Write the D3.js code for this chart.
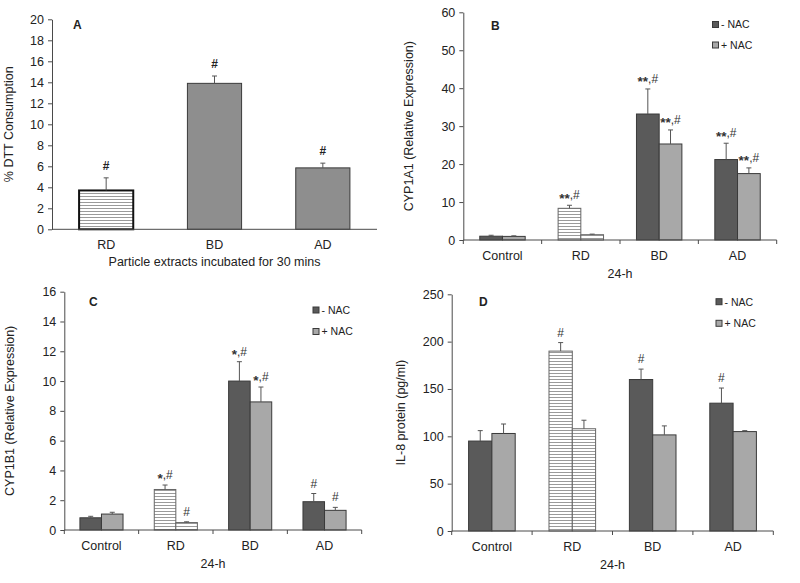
<!DOCTYPE html>
<html><head><meta charset="utf-8">
<script src="https://cdn.jsdelivr.net/npm/d3@7"></script>
<style>
html,body{margin:0;padding:0;background:#fff;}
text{font-family:"Liberation Sans",Arial,sans-serif;fill:#222;}
</style></head>
<body>
<svg id="fig" width="800" height="583"></svg>
<script>
// ---------- DATA ----------
const catsA = ["RD", "BD", "AD"];
const valsA = [3.7, 13.9, 5.85];
const errA = [1.2, 0.7, 0.45];
const annA = ["#", "#", "#"];
const ticksA = [0, 2, 4, 6, 8, 10, 12, 14, 16, 18, 20];

const cats = ["Control", "RD", "BD", "AD"];
const seriesNames = ["- NAC", "+ NAC"];

const minusB = [1.0, 8.35, 33.2, 21.2];
const plusB = [0.95, 1.4, 25.3, 17.5];
const errMinusB = [0.25, 0.8, 6.6, 4.3];
const errPlusB = [0.15, 0.15, 3.7, 1.5];
const annMinusB = ["", "**,#", "**,#", "**,#"];
const annPlusB = ["", "", "**,#", "**,#"];
const ticksB = [0, 10, 20, 30, 40, 50, 60];

const minusC = [0.82, 2.72, 10.0, 1.9];
const plusC = [1.07, 0.5, 8.6, 1.32];
const errMinusC = [0.1, 0.3, 1.3, 0.55];
const errPlusC = [0.12, 0.05, 1.0, 0.2];
const annMinusC = ["", "*,#", "*,#", "#"];
const annPlusC = ["", "#", "*,#", "#"];
const ticksC = [0, 2, 4, 6, 8, 10, 12, 14, 16];

const minusD = [95, 190, 160, 135];
const plusD = [103, 108, 101.5, 105];
const errMinusD = [11, 9, 11, 16];
const errPlusD = [10, 9, 9.5, 1];
const annMinusD = ["", "#", "#", "#"];
const annPlusD = ["", "", "", ""];
const ticksD = [0, 50, 100, 150, 200, 250];

// ---------- STYLE ----------
const DARK = "#5a5a5a", LIGHT = "#a8a8a8", MID = "#8e8e8e", EDGE = "#3a3a3a", AXIS = "#4a4a4a";
const FS = 12.5;

const svg = d3.select("#fig");
const defs = svg.append("defs");
const pat = defs.append("pattern").attr("id", "hatch").attr("patternUnits", "userSpaceOnUse")
  .attr("width", 6).attr("height", 3);
pat.append("rect").attr("width", 6).attr("height", 3).attr("fill", "#fff");
pat.append("line").attr("x1", 0).attr("x2", 6).attr("y1", 1.5).attr("y2", 1.5)
  .attr("stroke", "#9a9a9a").attr("stroke-width", 1);

function yAxis(g, y, ticks, left) {
  const ax = g.append("g").attr("transform", `translate(${left},0)`)
    .call(d3.axisLeft(y).tickValues(ticks).tickSize(4).tickSizeOuter(0).tickPadding(4));
  ax.select(".domain").attr("stroke", AXIS);
  ax.selectAll(".tick line").attr("stroke", AXIS);
  ax.selectAll(".tick text").style("font-size", FS + "px").style("fill", "#222")
    .style("font-family", '"Liberation Sans",Arial,sans-serif');
}

function errBar(g, x, yv, ye) {
  g.append("line").attr("x1", x).attr("x2", x).attr("y1", yv).attr("y2", ye).attr("stroke", "#555").attr("stroke-width", 1);
  g.append("line").attr("x1", x - 2.5).attr("x2", x + 2.5).attr("y1", ye).attr("y2", ye).attr("stroke", "#555").attr("stroke-width", 1);
}

// annotation with mid-height asterisks, as in the reference
function annot(g, x, y, label) {
  const t = g.append("text").attr("x", x).attr("y", y).attr("text-anchor", "middle")
    .style("font-size", "12px").style("fill", "#333");
  const m = label.match(/^(\**)(.*)$/);
  if (m[1]) {
    t.append("tspan").attr("dy", 3.5).style("font-size", "13.5px").style("font-weight", "bold").text(m[1]);
    t.append("tspan").attr("dy", -3.5).text(m[2]);
  } else {
    t.text(label);
  }
}

// ---------- PANEL A ----------
(function () {
  const L = 52, R = 377, T = 19.3, B = 229.3;
  const g = svg.append("g");
  const x = d3.scaleBand().domain(catsA).range([L, R]);
  const y = d3.scaleLinear().domain([0, 20]).range([B, T]);
  const bw = x.bandwidth() * 0.5;
  catsA.forEach((c, i) => {
    const cx = x(c) + x.bandwidth() / 2;
    const hatched = c === "RD";
    g.append("rect").attr("x", cx - bw / 2).attr("y", y(valsA[i])).attr("width", bw)
      .attr("height", y(0) - y(valsA[i]))
      .attr("fill", hatched ? "url(#hatch)" : MID)
      .attr("stroke", hatched ? "#111" : EDGE).attr("stroke-width", hatched ? 2 : 1);
    errBar(g, cx, y(valsA[i]), y(valsA[i] + errA[i]));
    g.append("text").attr("x", cx).attr("y", y(valsA[i] + errA[i]) - 8).attr("text-anchor", "middle")
      .style("font-size", "12px").style("font-weight", "bold").text(annA[i]);
    g.append("text").attr("x", cx).attr("y", B + 20).attr("text-anchor", "middle")
      .style("font-size", FS + "px").text(c);
  });
  g.append("line").attr("x1", L).attr("x2", R).attr("y1", B).attr("y2", B).attr("stroke", AXIS);
  yAxis(g, y, ticksA, L);
  g.append("text").attr("x", (L + R) / 2).attr("y", B + 37).attr("text-anchor", "middle")
    .style("font-size", FS + "px").text("Particle extracts incubated  for 30 mins");
  g.append("text").attr("transform", `translate(${L - 39},${(T + B) / 2}) rotate(-90)`)
    .attr("text-anchor", "middle").style("font-size", FS + "px").text("%  DTT Consumption");
  g.append("text").attr("x", L + 21).attr("y", 28.5).style("font-size", "12px").style("font-weight", "bold").text("A");
})();

// ---------- GROUPED PANELS ----------
function grouped(cfg) {
  const { L, R, T, B, ymax, ticks, minus, plus, errM, errP, annM, annP, ylab, letter, letterX, letterY, legX, legY, legGap, ylabX } = cfg;
  const g = svg.append("g");
  const x0 = d3.scaleBand().domain(cats).range([L, R]);
  const x1 = d3.scaleBand().domain(seriesNames).range([0, x0.bandwidth()]).paddingInner(0).paddingOuter(0.725);
  const y = d3.scaleLinear().domain([0, ymax]).range([B, T]);
  const sets = [
    { vals: minus, err: errM, ann: annM, fill: DARK, name: seriesNames[0] },
    { vals: plus, err: errP, ann: annP, fill: LIGHT, name: seriesNames[1] }
  ];
  cats.forEach((c, i) => {
    const hatched = c === "RD";
    sets.forEach(s => {
      const bx = x0(c) + x1(s.name);
      const w = x1.bandwidth();
      const v = s.vals[i];
      g.append("rect").attr("x", bx).attr("y", y(v)).attr("width", w).attr("height", y(0) - y(v))
        .attr("fill", hatched ? "url(#hatch)" : s.fill)
        .attr("stroke", hatched ? "#666" : EDGE).attr("stroke-width", 1);
      const cx = bx + w / 2;
      const ye = y(v + s.err[i]);
      errBar(g, cx, y(v), ye);
      if (s.ann[i]) annot(g, cx, ye - 6, s.ann[i]);
    });
    g.append("text").attr("x", x0(c) + x0.bandwidth() / 2).attr("y", B + 20).attr("text-anchor", "middle")
      .style("font-size", FS + "px").text(c);
  });
  // x axis with ticks at band boundaries
  g.append("line").attr("x1", L).attr("x2", R).attr("y1", B).attr("y2", B).attr("stroke", AXIS);
  const bounds = cats.map(c => x0(c)).concat([x0(cats[cats.length - 1]) + x0.bandwidth()]);
  bounds.forEach(bx => g.append("line").attr("x1", bx).attr("x2", bx).attr("y1", B).attr("y2", B + 4).attr("stroke", AXIS));
  yAxis(g, y, ticks, L);
  g.append("text").attr("x", (L + R) / 2).attr("y", B + 38).attr("text-anchor", "middle")
    .style("font-size", FS + "px").text("24-h");
  g.append("text").attr("transform", `translate(${ylabX},${(T + B) / 2}) rotate(-90)`)
    .attr("text-anchor", "middle").style("font-size", FS + "px").text(ylab);
  g.append("text").attr("x", letterX).attr("y", letterY).style("font-size", "12px").style("font-weight", "bold").text(letter);
  sets.forEach((s, k) => {
    const ly = legY + k * legGap;
    g.append("rect").attr("x", legX).attr("y", ly - 3).attr("width", 6).attr("height", 6)
      .attr("fill", s.fill).attr("stroke", EDGE).attr("stroke-width", 1);
    g.append("text").attr("x", legX + 8.5).attr("y", ly + 3.8).style("font-size", "10.5px").text(s.name);
  });
}

grouped({ L: 463.3, R: 776.7, T: 12.3, B: 240, ymax: 60, ticks: ticksB, minus: minusB, plus: plusB,
  errM: errMinusB, errP: errPlusB, annM: annMinusB, annP: annPlusB, ylab: "CYP1A1 (Relative  Expression)",
  letter: "B", letterX: 491, letterY: 29.5, legX: 712.5, legY: 24.5, legGap: 20.5, ylabX: 413 });

grouped({ L: 64.3, R: 361.7, T: 291.7, B: 530, ymax: 16, ticks: ticksC, minus: minusC, plus: plusC,
  errM: errMinusC, errP: errPlusC, annM: annMinusC, annP: annPlusC, ylab: "CYP1B1 (Relative  Expression)",
  letter: "C", letterX: 89, letterY: 306, legX: 313, legY: 310, legGap: 21.5, ylabX: 13.5 });

grouped({ L: 451.7, R: 773.3, T: 294.3, B: 531, ymax: 250, ticks: ticksD, minus: minusD, plus: plusD,
  errM: errMinusD, errP: errPlusD, annM: annMinusD, annP: annPlusD, ylab: "IL-8 protein  (pg/ml)",
  letter: "D", letterX: 479, letterY: 305.5, legX: 716, legY: 301.7, legGap: 21.6, ylabX: 405 });
</script>
</body></html>
